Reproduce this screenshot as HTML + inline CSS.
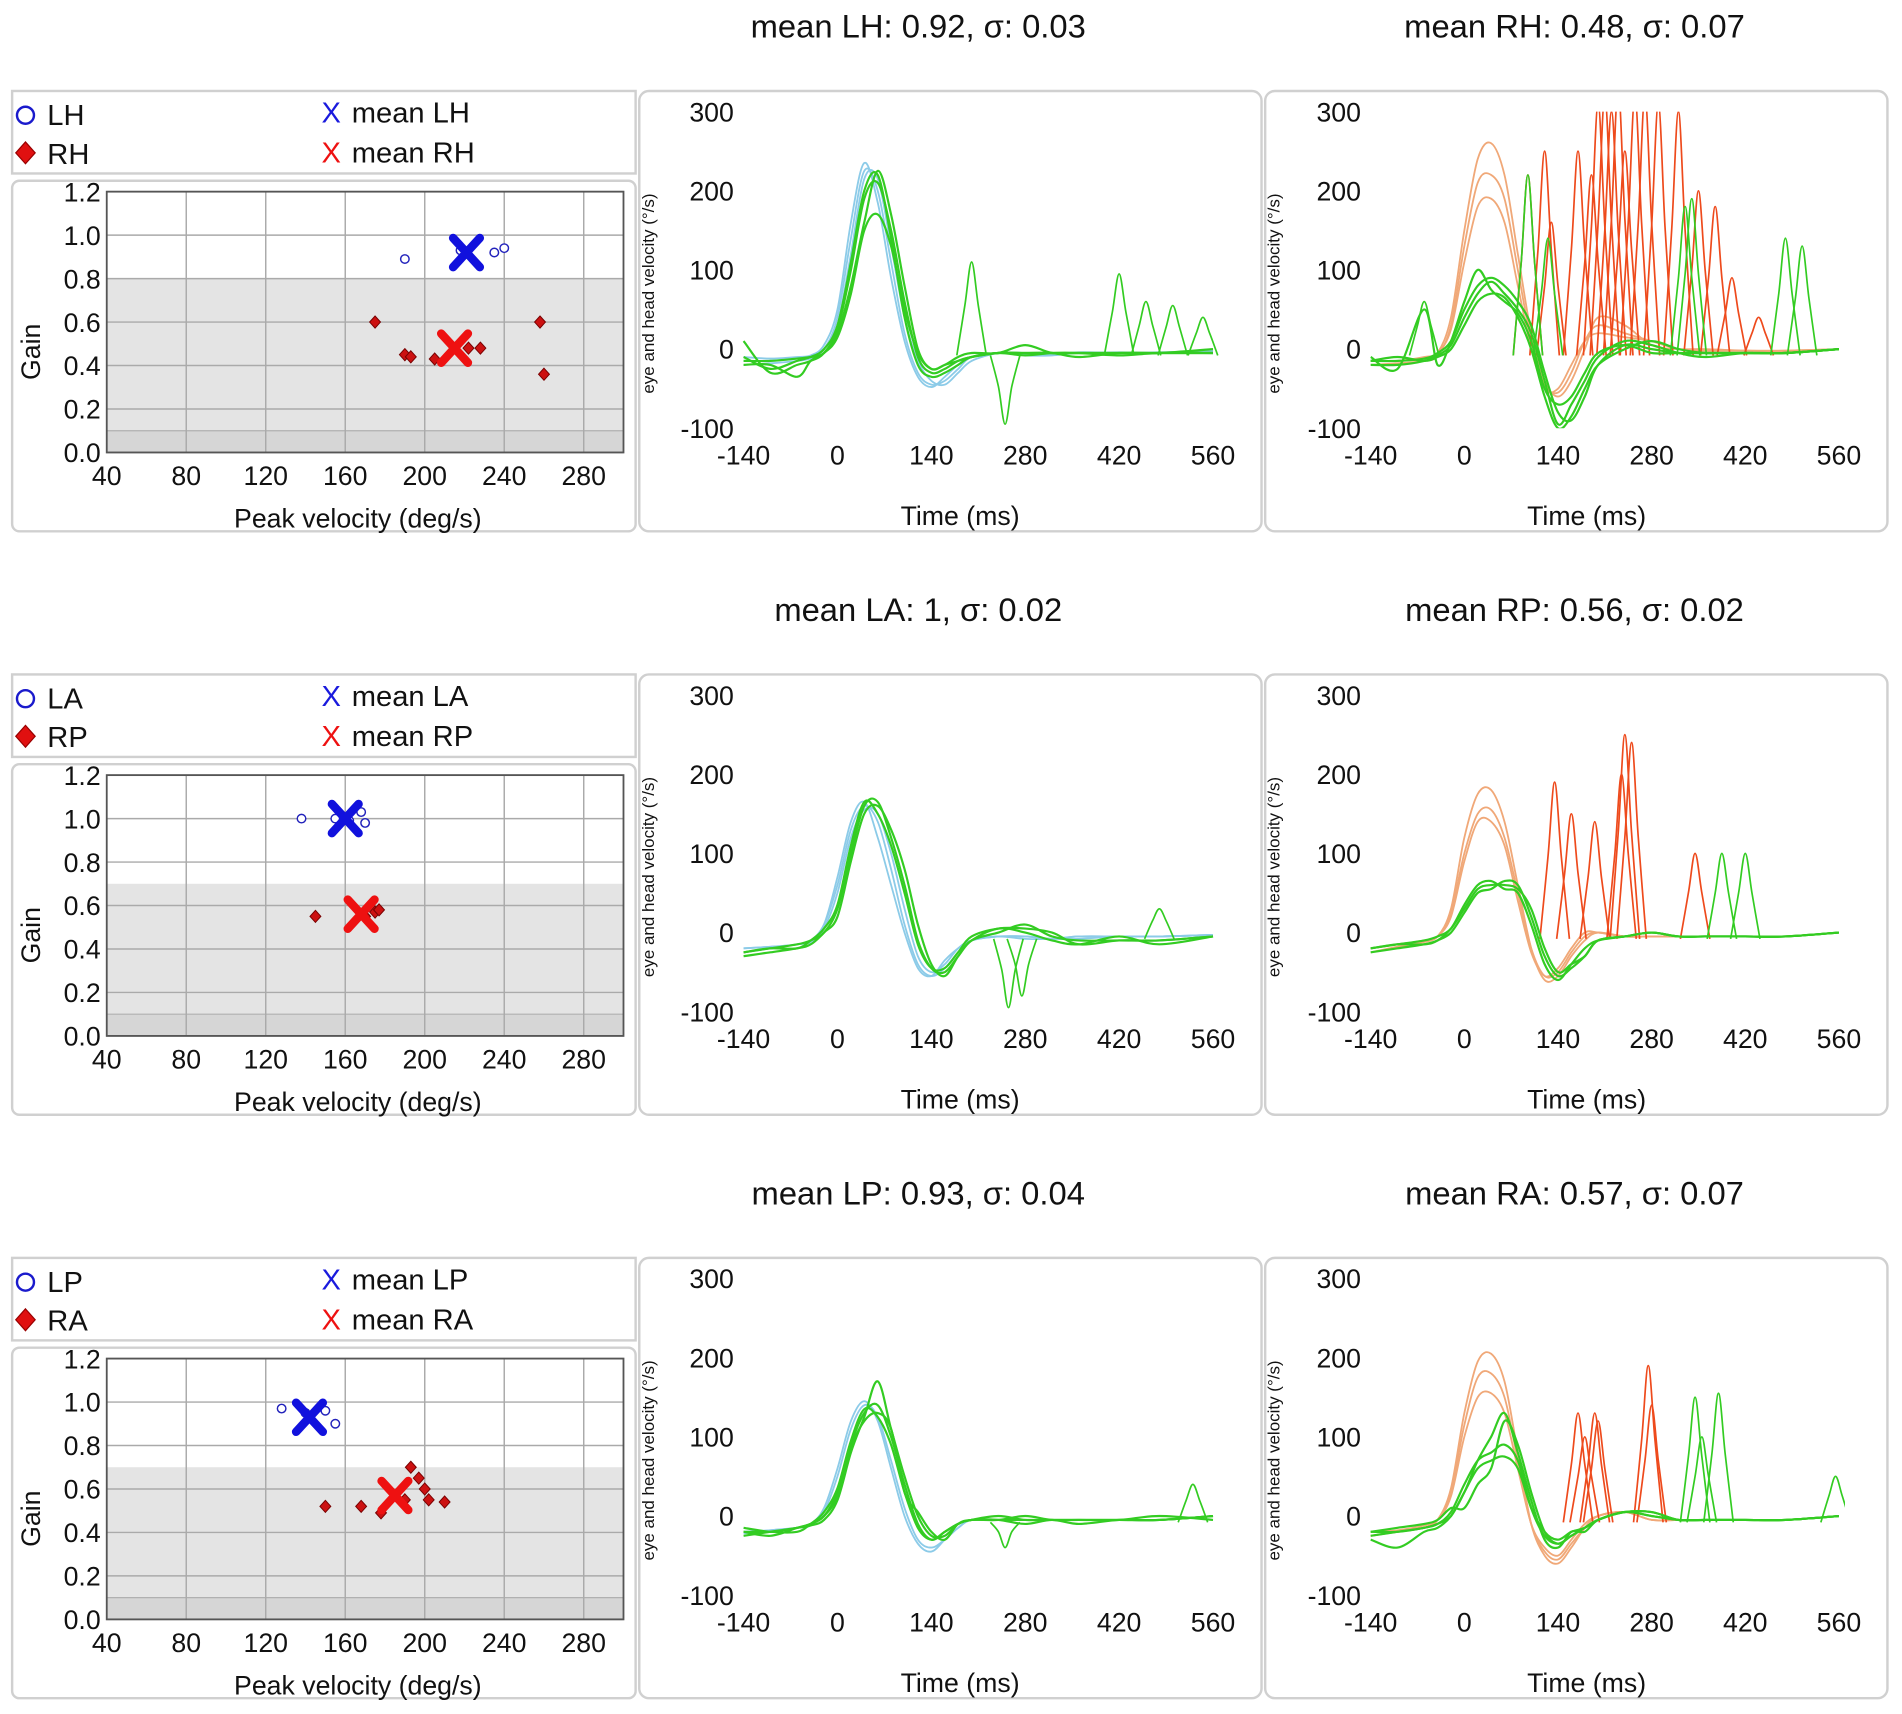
<!DOCTYPE html>
<html><head><meta charset="utf-8"><style>
html,body{margin:0;padding:0;background:#fff;}
svg{display:block;font-family:"Liberation Sans",sans-serif;}
</style></head><body>
<svg id="root" width="1902" height="1714" viewBox="0 0 1568 1413" xmlns="http://www.w3.org/2000/svg"></svg>
<script>
// ---------- shared time grid (ms) ----------
const T = [-140,-100,-60,-40,-20,0,20,40,60,80,100,120,140,160,180,200,240,280,320,360,420,480,560];
// ---------- row titles ----------
const titlesMid = ["mean LH: 0.92, σ: 0.03","mean LA: 1, σ: 0.02","mean LP: 0.93, σ: 0.04"];
const titlesRight = ["mean RH: 0.48, σ: 0.07","mean RP: 0.56, σ: 0.02","mean RA: 0.57, σ: 0.07"];
const legendL = ["LH","LA","LP"];
const legendR = ["RH","RP","RA"];
const shadeTop = [0.8,0.7,0.7];
// ---------- scatter data ----------
const leftVel = [[190,235,240,218],[138,155,162,168,170],[128,140,150,155]];
const leftGain = [[0.89,0.92,0.94,0.93],[1.0,1.0,0.99,1.03,0.98],[0.97,0.95,0.96,0.90]];
const rightVel = [[175,190,193,205,228,258,260,222],[145,175,177,170],[150,168,178,190,193,197,200,202,210]];
const rightGain = [[0.60,0.45,0.44,0.43,0.48,0.60,0.36,0.48],[0.55,0.57,0.58,0.55],[0.52,0.52,0.49,0.55,0.70,0.65,0.60,0.55,0.54]];
const meanL = [[221,0.92],[160,1.0],[142,0.93]];
const meanR = [[215,0.48],[168,0.56],[185,0.57]];
const scatterXTicks = [40,80,120,160,200,240,280];
const scatterYTicks = ["0.0","0.2","0.4","0.6","0.8","1.0","1.2"];
// ---------- velocity traces ----------
const headLH = [
 [-15,-15,-12,-10,0,40,140,225,200,110,20,-30,-45,-40,-25,-10,-5,-8,-8,-5,-5,-5,-3],
 [-20,-18,-15,-12,-5,30,120,215,215,130,40,-15,-40,-45,-30,-15,-5,-5,-6,-5,-4,-5,-2],
 [-10,-12,-10,-8,5,50,160,235,185,90,10,-35,-48,-35,-20,-10,-5,-6,-7,-4,-5,-4,-3]];
const eyeLH = [
 [-15,-15,-12,-10,-5,20,80,160,225,170,80,0,-25,-20,-15,-10,-5,-8,-5,-5,-8,-5,-5],
 [10,-30,-20,-15,-5,25,100,190,210,150,60,-10,-30,-25,-15,-10,-5,-5,-5,-10,-5,-5,-5],
 [-20,-20,-35,-15,-5,15,70,150,170,130,50,-5,-25,-20,-10,-5,-5,5,-5,-5,-5,-5,0],
 [-10,-25,-15,-10,0,30,110,200,220,140,40,-20,-35,-30,-20,-10,-5,-5,-5,-5,-5,-5,-5]];
const spikeLH_T = [200,250,420,460,500,545], spikeLH_V = [110,-95,95,60,55,40];
const headRH = [
 [-15,-15,-12,-5,40,150,240,260,220,120,20,-40,-60,-40,0,40,30,5,0,0,-2,-3,0],
 [-20,-18,-15,-8,30,130,210,220,190,100,10,-45,-55,-30,10,30,20,10,0,-2,-2,-2,0],
 [-15,-15,-10,-5,25,110,180,190,160,80,0,-50,-50,-20,10,20,15,10,0,-2,-2,-2,0]];
const eyeRH = [
 [-15,-15,-12,-5,10,50,80,90,80,60,30,-30,-80,-90,-60,-20,5,0,-5,-5,-5,-5,0],
 [-20,-20,-15,-8,5,40,70,85,70,50,20,-40,-95,-70,-40,-10,10,5,-5,-10,-5,-5,0],
 [-10,-25,50,-20,10,60,100,75,60,45,10,-50,-70,-60,-30,-5,5,-5,-5,-5,-5,-5,0],
 [-15,-10,-15,-10,0,30,60,70,65,40,0,-60,-100,-85,-50,-20,0,10,0,-5,-5,-5,0]];
const redRH_T = [95,120,130,170,190,200,210,220,230,240,255,270,290,320,350,375,400,440];
const redRH_V = [220,250,160,250,220,310,320,300,330,250,320,320,310,300,200,180,90,40];
const greenRH_T = [95,125,330,340,480,505,-60], greenRH_V = [220,140,180,190,140,130,60];
const headLA = [
 [-20,-18,-15,-10,10,60,130,160,140,80,10,-40,-55,-45,-25,-10,-5,-5,-8,-8,-5,-5,-3],
 [-25,-20,-15,-12,5,50,120,155,150,100,30,-30,-50,-40,-20,-10,-5,-8,-8,-5,-5,-5,-3],
 [-20,-18,-15,-10,10,70,140,165,120,60,0,-45,-55,-35,-20,-10,-5,-5,-8,-5,-5,-5,-3]];
const eyeLA = [
 [-25,-20,-15,-10,0,30,100,160,165,120,60,-10,-45,-50,-30,-10,5,0,-10,-15,-5,-15,-5],
 [-30,-25,-20,-15,0,20,90,150,160,130,80,10,-40,-55,-30,-10,0,10,-5,-10,-10,-10,-5],
 [-25,-20,-20,-10,5,35,110,165,150,110,50,-15,-45,-45,-25,-5,5,5,0,-15,-10,-10,-5]];
const spikeLA_T = [255,275,480], spikeLA_V = [-95,-80,30];
const headRP = [
 [-20,-15,-10,-5,30,120,175,180,140,60,-20,-60,-55,-30,-10,0,-5,-5,-5,-5,-5,-5,0],
 [-20,-15,-10,-5,25,100,150,155,120,50,-20,-55,-50,-25,-5,0,-5,-5,-5,-5,-5,-5,0],
 [-25,-18,-12,-5,20,90,140,140,110,40,-25,-55,-45,-20,0,0,-5,-5,-5,-5,-5,-5,0]];
const eyeRP = [
 [-20,-15,-15,-10,5,30,55,60,60,55,30,-20,-50,-40,-30,-10,-5,0,-5,-5,-5,-5,0],
 [-25,-20,-15,-10,0,25,50,55,65,60,20,-30,-55,-45,-30,-10,-5,0,-5,-5,-5,-5,0],
 [-20,-15,-10,-5,5,35,60,65,55,50,10,-40,-60,-40,-20,-10,-5,0,-5,-5,-5,-5,0]];
const redRP_T = [135,160,195,235,240,250,345], redRP_V = [190,150,140,200,250,240,100];
const greenRP_T = [385,420], greenRP_V = [100,100];
const headLP = [
 [-20,-18,-15,-10,10,60,120,145,120,60,0,-35,-45,-30,-15,-5,-5,-5,-5,-5,-5,-5,0],
 [-22,-18,-15,-12,5,50,110,140,125,70,10,-30,-40,-30,-15,-5,-5,-5,-5,-5,-5,-5,0]];
const eyeLP = [
 [-20,-20,-15,-10,0,30,90,130,140,100,40,-10,-30,-20,-10,-5,-5,-10,-5,-10,-5,-5,0],
 [-25,-20,-15,-12,-5,20,80,125,170,110,50,0,-25,-25,-10,-5,0,-5,-5,-5,-5,0,-5],
 [-20,-25,-15,-10,0,25,85,120,130,110,30,5,-20,-30,-10,-5,-5,-5,-5,-5,-5,-5,0],
 [-15,-20,-20,-10,5,35,95,135,125,90,30,-15,-30,-20,-10,-5,-5,0,-5,-5,-5,-5,0]];
const spikeLP_T = [250,530], spikeLP_V = [-40,40];
const headRA = [
 [-25,-20,-15,-5,35,130,195,205,170,80,-10,-50,-60,-40,-15,0,5,-5,-5,-5,-5,-5,0],
 [-25,-20,-15,-5,30,115,175,180,150,70,-10,-45,-55,-35,-15,0,5,-5,-5,-5,-5,-5,0],
 [-20,-18,-12,-5,25,100,150,155,130,60,-10,-40,-50,-30,-10,0,5,-5,-5,-5,-5,-5,0]];
const eyeRA = [
 [-25,-20,-15,-10,0,30,70,100,130,80,20,-30,-40,-20,-20,-5,5,5,-5,-5,-5,-5,0],
 [-20,-20,-15,-10,5,40,70,80,90,70,10,-25,-35,-25,-15,-5,5,0,-5,-5,-5,-5,0],
 [-30,-40,-20,-15,0,30,60,70,75,60,10,-20,-30,-20,-15,-5,5,0,-5,-5,-5,-5,0],
 [-20,-15,-10,-5,10,10,40,60,120,90,30,-20,-35,-25,-15,-5,5,5,-5,-5,-5,-5,0]];
const redRA_T = [170,180,195,200,275,280], redRA_V = [130,100,130,120,190,140];
const greenRA_T = [345,355,380,555], greenRA_V = [150,100,155,50];

const panelsMid = [
 {head:headLH, eye:eyeLH, sT:spikeLH_T, sV:spikeLH_V, hc:"#8ccbe8"},
 {head:headLA, eye:eyeLA, sT:spikeLA_T, sV:spikeLA_V, hc:"#8ccbe8"},
 {head:headLP, eye:eyeLP, sT:spikeLP_T, sV:spikeLP_V, hc:"#8ccbe8"}];
const panelsRight = [
 {head:headRH, eye:eyeRH, rT:redRH_T, rV:redRH_V, gT:greenRH_T, gV:greenRH_V, hc:"#f0a878"},
 {head:headRP, eye:eyeRP, rT:redRP_T, rV:redRP_V, gT:greenRP_T, gV:greenRP_V, hc:"#f0a878"},
 {head:headRA, eye:eyeRA, rT:redRA_T, rV:redRA_V, gT:greenRA_T, gV:greenRA_V, hc:"#f0a878"}];

const NS = "http://www.w3.org/2000/svg";
const root = document.getElementById('root');
function mk(tag, attrs, parent, text){
  const e = document.createElementNS(NS, tag);
  for (const k in attrs) e.setAttribute(k, attrs[k]);
  if (text !== undefined) e.textContent = text;
  (parent||root).appendChild(e);
  return e;
}
function smooth(pts){
  let d = "M"+pts[0][0].toFixed(1)+","+pts[0][1].toFixed(1);
  for (let i=0;i<pts.length-1;i++){
    const p0=pts[Math.max(0,i-1)],p1=pts[i],p2=pts[i+1],p3=pts[Math.min(pts.length-1,i+2)];
    const c1=[p1[0]+(p2[0]-p0[0])/6,p1[1]+(p2[1]-p0[1])/6];
    const c2=[p2[0]-(p3[0]-p1[0])/6,p2[1]-(p3[1]-p1[1])/6];
    d+=" C"+c1[0].toFixed(1)+","+c1[1].toFixed(1)+" "+c2[0].toFixed(1)+","+c2[1].toFixed(1)+" "+p2[0].toFixed(1)+","+p2[1].toFixed(1);
  }
  return d;
}

for (let r=0;r<3;r++){
  const dy = r*481;
  let t = mk('text',{x:757,y:dy+31,'text-anchor':'middle','font-size':27,fill:'#111'},root,titlesMid[r]);
   
  t = mk('text',{x:1298,y:dy+31,'text-anchor':'middle','font-size':27,fill:'#111'},root,titlesRight[r]);
   

  const lg = mk('g',{});
   
  mk('rect',{x:10,y:dy+75,width:514,height:68,fill:'#fff',stroke:'#d0d0d0','stroke-width':2},lg);
  mk('circle',{cx:21,cy:dy+95,r:7,fill:'none',stroke:'#1a1acc','stroke-width':2},lg);
  mk('text',{x:39,y:dy+103,'font-size':24,fill:'#111'},lg,legendL[r]);
  mk('path',{d:`M21,${dy+117} L29,${dy+126} L21,${dy+135} L13,${dy+126}Z`,fill:'#e01010',stroke:'#900','stroke-width':1},lg);
  mk('text',{x:39,y:dy+135,'font-size':24,fill:'#111'},lg,legendR[r]);
  mk('text',{x:265,y:dy+101,'font-size':24,fill:'#1a1add'},lg,"X");
  mk('text',{x:290,y:dy+101,'font-size':24,fill:'#111'},lg,"mean "+legendL[r]);
  mk('text',{x:265,y:dy+134,'font-size':24,fill:'#ee1111'},lg,"X");
  mk('text',{x:290,y:dy+134,'font-size':24,fill:'#111'},lg,"mean "+legendR[r]);

  const sp = mk('g',{});
   
  mk('rect',{x:10,y:dy+149,width:514,height:289,rx:6,fill:'#fff',stroke:'#d0d0d0','stroke-width':2},sp);
  const X0=88,X1=514,Y0=dy+373,Y1=dy+158;
  const sx = v=>X0+(v-40)*(X1-X0)/260;
  const sy = g=>Y0-g*(Y0-Y1)/1.2;
  mk('rect',{x:X0,y:sy(shadeTop[r]),width:X1-X0,height:Y0-sy(shadeTop[r]),fill:'#e4e4e4'},sp);
  mk('rect',{x:X0,y:sy(0.1),width:X1-X0,height:Y0-sy(0.1),fill:'#d6d6d6'},sp);
  mk('line',{x1:X0,x2:X1,y1:sy(0.1),y2:sy(0.1),stroke:'#b0b0b0','stroke-width':1},sp);
  scatterYTicks.forEach(s=>{
    const y=sy(parseFloat(s));
    mk('line',{x1:X0,x2:X1,y1:y,y2:y,stroke:'#aaa','stroke-width':1.2},sp);
    mk('text',{x:83,y:y+8,'text-anchor':'end','font-size':22,fill:'#111'},sp,s);
  });
  scatterXTicks.forEach(v=>{
    const x=sx(v);
    mk('line',{x1:x,x2:x,y1:Y1,y2:Y0,stroke:'#aaa','stroke-width':1.2},sp);
    mk('text',{x:x,y:dy+400,'text-anchor':'middle','font-size':22,fill:'#111'},sp,String(v));
  });
  mk('rect',{x:X0,y:Y1,width:X1-X0,height:Y0-Y1,fill:'none',stroke:'#555','stroke-width':1.5},sp);
  mk('text',{x:33,y:dy+290,'text-anchor':'middle','font-size':22,fill:'#111',transform:`rotate(-90 33 ${dy+290})`},sp,"Gain");
  mk('text',{x:295,y:dy+435,'text-anchor':'middle','font-size':22,fill:'#111'},sp,"Peak velocity (deg/s)");
  for (let i=0;i<leftVel[r].length;i++){
    const c=mk('circle',{cx:sx(leftVel[r][i]),cy:sy(leftGain[r][i]),r:3.5,fill:'#fff',stroke:'#2222bb','stroke-width':1.2},sp);
     
  }
  for (let i=0;i<rightVel[r].length;i++){
    const x=sx(rightVel[r][i]),y=sy(rightGain[r][i]);
    const p=mk('path',{d:`M${x},${y-5} L${x+4.5},${y} L${x},${y+5} L${x-4.5},${y}Z`,fill:'#cc1111',stroke:'#700','stroke-width':0.8},sp);
     
  }
  [[meanL[r],'#1111dd','mean-left-marker'],[meanR[r],'#ee1111','mean-right-marker']].forEach(([m,col,nm])=>{
    const x=sx(m[0]),y=sy(m[1]);
    const p=mk('path',{d:`M${x-11},${y-12} L${x+11},${y+12} M${x+11},${y-12} L${x-11},${y+12}`,stroke:col,'stroke-width':7,'stroke-linecap':'round'},sp);
     
  });

  [[527,613,1000,panelsMid[r],'mid'],[1043,1130,1516,panelsRight[r],'right']].forEach(([bx,px0,px1,pd,side])=>{
    const g=mk('g',{});
     
    mk('rect',{x:bx,y:dy+75,width:513,height:363,rx:8,fill:'#fff',stroke:'#d0d0d0','stroke-width':2},g);
    const ty0=dy+353, ty1=dy+92;
    const tx=t=>px0+(t+140)*(px1-px0)/700;
    const ty=v=>ty0-(v+100)*(ty0-ty1)/400;
    [300,200,100,0,-100].forEach(v=>mk('text',{x:px0-8,y:ty(v)+8,'text-anchor':'end','font-size':22,fill:'#111'},g,String(v)));
    [-140,0,140,280,420,560].forEach(v=>mk('text',{x:tx(v),y:dy+383,'text-anchor':'middle','font-size':22,fill:'#111'},g,String(v)));
    const cx=bx+12, cy=dy+242;
    mk('text',{x:cx,y:cy,'text-anchor':'middle','font-size':14,fill:'#111',transform:`rotate(-90 ${cx} ${cy})`},g,"eye and head velocity (°/s)");
    mk('text',{x:(px0+px1)/2-15,y:dy+433,'text-anchor':'middle','font-size':22,fill:'#111'},g,"Time (ms)");
    const cid='clip'+side+r;
    const cp=mk('clipPath',{id:cid},g);
    mk('rect',{x:px0-5,y:ty1,width:px1-px0+10,height:ty0-ty1},cp);
    const lines=mk('g',{'clip-path':`url(#${cid})`,fill:'none'},g);
    pd.head.forEach(arr=>{
      const p=mk('path',{d:smooth(arr.map((v,i)=>[tx(T[i]),ty(v)])),stroke:pd.hc,'stroke-width':1.5},lines);
       
    });
    const spike=(t,v,col,nm)=>{
      const p=mk('path',{d:smooth([[tx(t-22),ty(-8)],[tx(t-10),ty(v*0.5)],[tx(t),ty(v)],[tx(t+10),ty(v*0.5)],[tx(t+22),ty(-8)]]),stroke:col,'stroke-width':1.4},lines);
       
    };
    if (pd.rT) pd.rT.forEach((t,i)=>spike(t,pd.rV[i],'#ee4a1c','saccade-spike'));
    pd.eye.forEach(arr=>{
      const p=mk('path',{d:smooth(arr.map((v,i)=>[tx(T[i]),ty(v)])),stroke:'#33cc22','stroke-width':1.8},lines);
       
    });
    if (pd.sT) pd.sT.forEach((t,i)=>spike(t,pd.sV[i],'#33cc22','eye-spike'));
    if (pd.gT) pd.gT.forEach((t,i)=>spike(t,pd.gV[i],'#33cc22','eye-spike'));
  });
}
</script>
</body></html>
